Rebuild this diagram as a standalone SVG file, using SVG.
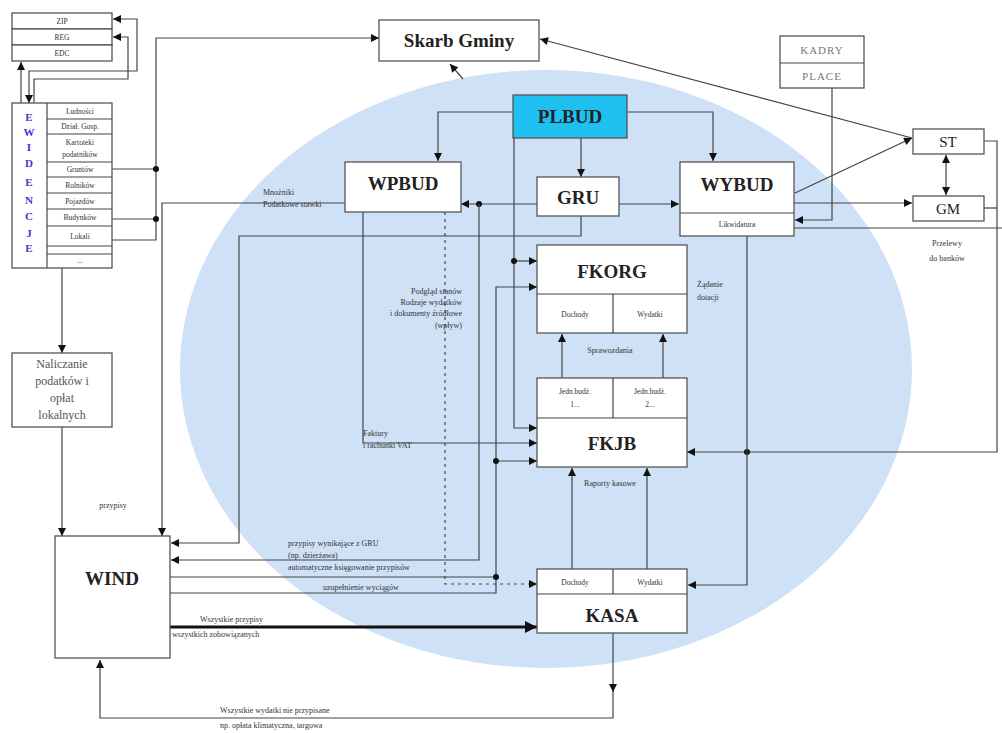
<svg xmlns="http://www.w3.org/2000/svg" width="1002" height="733" viewBox="0 0 1002 733">
<style>
.bx{fill:#fff;stroke:#555;stroke-width:1.3}
.ln{fill:none;stroke:#444;stroke-width:1.2}
.big{font-family:"Liberation Serif",serif;font-weight:bold;font-size:19px;fill:#222;text-anchor:middle}
.mid{font-family:"Liberation Serif",serif;font-size:15px;fill:#222;text-anchor:middle}
.sm{font-family:"Liberation Serif",serif;font-size:7.5px;fill:#333;text-anchor:middle}
.lb{font-family:"Liberation Serif",serif;font-size:8px;fill:#333}
.nl{font-family:"Liberation Serif",serif;font-size:12px;fill:#555;text-anchor:middle}
.ew{font-family:"Liberation Serif",serif;font-weight:bold;font-size:11px;fill:#3a3ad0;text-anchor:middle}
.kd{font-family:"Liberation Serif",serif;font-size:11px;fill:#777;text-anchor:middle;letter-spacing:1px}
.dot{fill:#111}
</style>
<defs>
<marker id="a" viewBox="0 0 10 10" refX="10" refY="5" markerWidth="9" markerHeight="8" markerUnits="userSpaceOnUse" orient="auto-start-reverse"><path d="M0,0 L10,5 L0,10 z" fill="#111"/></marker>
<marker id="ab" viewBox="0 0 10 10" refX="10" refY="5" markerWidth="14" markerHeight="12" markerUnits="userSpaceOnUse" orient="auto"><path d="M0,0 L10,5 L0,10 z" fill="#111"/></marker>
</defs>
<rect width="1002" height="733" fill="#fff"/>
<ellipse cx="546" cy="369" rx="366" ry="299" fill="#cfe1f6"/>

<g id="connectors">
<path class="ln" d="M21,103 V62" marker-end="url(#a)"/>
<path class="ln" d="M29,103 V71 H137 V19 H113" marker-start="url(#a)" marker-end="url(#a)"/>
<path class="ln" d="M34,103 V79 H128 V37 H113" marker-end="url(#a)"/>
<path class="ln" d="M62,268 V353" marker-end="url(#a)"/>
<path class="ln" d="M62,427 V536" marker-end="url(#a)"/>
<path class="ln" d="M112,240 H156 V38 H379" marker-end="url(#a)"/>
<path class="ln" d="M112,169 H156 M112,219 H156"/>
<circle class="dot" cx="156" cy="169" r="3"/>
<circle class="dot" cx="156" cy="219" r="3"/>
<path class="ln" d="M345,203 H162 V536" marker-end="url(#a)"/>
<path class="ln" d="M463,79 L450,64" marker-end="url(#a)"/>
<path class="ln" d="M513,112 H438 V161" marker-end="url(#a)"/>
<path class="ln" d="M627,112 H713 V161" marker-end="url(#a)"/>
<path class="ln" d="M581,138 V177" marker-end="url(#a)"/>
<path class="ln" d="M514,138 V428 H537" marker-end="url(#a)"/>
<path class="ln" d="M514,261 H537" marker-end="url(#a)"/>
<circle class="dot" cx="514" cy="261" r="3"/>
<path class="ln" d="M537,204 H461" marker-end="url(#a)"/>
<circle class="dot" cx="479" cy="204" r="3"/>
<path class="ln" d="M479,204 V560 H171" marker-end="url(#a)"/>
<path class="ln" d="M619,204 H679" marker-end="url(#a)"/>
<path class="ln" d="M581,216 V236 H239 V543 H171" marker-end="url(#a)"/>
<path class="ln" d="M445,212 V584 H537" stroke-dasharray="3,4" marker-end="url(#a)"/>
<path class="ln" d="M363,212 V443 H537" marker-end="url(#a)"/>
<path class="ln" d="M170,577 H496"/>
<path class="ln" d="M170,593 H496 V287 H537" marker-end="url(#a)"/>
<path class="ln" d="M496,461 H537" marker-end="url(#a)"/>
<circle class="dot" cx="496" cy="577" r="3"/>
<circle class="dot" cx="496" cy="461" r="3"/>
<path class="ln" d="M562,378 V334" marker-end="url(#a)"/>
<path class="ln" d="M663,378 V334" marker-end="url(#a)"/>
<path class="ln" d="M572,569 V468" marker-end="url(#a)"/>
<path class="ln" d="M647,569 V468" marker-end="url(#a)"/>
<path d="M170,627 H537" fill="none" stroke="#111" stroke-width="3" marker-end="url(#ab)"/>
<path class="ln" d="M613,633 V692" marker-end="url(#a)"/>
<path class="ln" d="M613,690 V718 H100 V660" marker-end="url(#a)"/>
<path class="ln" d="M912,138 L540,39" marker-end="url(#a)"/>
<path class="ln" d="M795,193 L912,138" marker-end="url(#a)"/>
<path class="ln" d="M794,203 H912" marker-end="url(#a)"/>
<path class="ln" d="M946,155 V195" marker-start="url(#a)" marker-end="url(#a)"/>
<path class="ln" d="M832,88 V220 H795" marker-end="url(#a)"/>
<path class="ln" d="M984,141 H997 V452 H687" marker-end="url(#a)"/>
<path class="ln" d="M984,208 H997"/>
<circle class="dot" cx="747" cy="452" r="3"/>
<path class="ln" d="M747,236 V585 H688" marker-end="url(#a)"/>
<path class="ln" d="M794,228 H1002"/>
</g>

<g id="labels">
<text class="lb" x="263" y="195">Mnożniki</text>
<text class="lb" x="263" y="207">Podatkowe stawki</text>
<text class="lb" x="462" y="294" text-anchor="end">Podgląd stanów</text>
<text class="lb" x="462" y="305" text-anchor="end">Rodzaje wydatków</text>
<text class="lb" x="462" y="316" text-anchor="end">i dokumenty źródłowe</text>
<text class="lb" x="462" y="328" text-anchor="end">(wpływ)</text>
<text class="lb" x="363" y="436">Faktury</text>
<text class="lb" x="363" y="448">i rachunki VAT</text>
<text class="lb" x="610" y="353" text-anchor="middle">Sprawozdania</text>
<text class="lb" x="610" y="486" text-anchor="middle">Raporty kasowe</text>
<text class="lb" x="697" y="287">Żądanie</text>
<text class="lb" x="697" y="300">dotacji</text>
<text class="lb" x="947" y="246" text-anchor="middle">Przelewy</text>
<text class="lb" x="947" y="261" text-anchor="middle">do banków</text>
<text class="lb" x="113" y="508" text-anchor="middle">przypisy</text>
<text class="lb" x="288" y="546">przypisy wynikające z GRU</text>
<text class="lb" x="288" y="558">(np. dzierżawa)</text>
<text class="lb" x="288" y="570">automatyczne księgowanie przypisów</text>
<text class="lb" x="323" y="590">uzupełnienie wyciągów</text>
<text class="lb" x="200" y="622" font-size="9">Wszystkie przypisy</text>
<text class="lb" x="172" y="637" font-size="9">wszystkich zobowiązanych</text>
<text class="lb" x="220" y="713">Wszystkie wydatki nie przypisane</text>
<text class="lb" x="220" y="728">np. opłata klimatyczna, targowa</text>
</g>

<g id="zip">
<rect class="bx" x="12" y="13" width="100" height="16"/>
<text class="sm" x="62" y="24">ZIP</text>
</g>
<g id="reg">
<rect class="bx" x="12" y="29" width="100" height="16"/>
<text class="sm" x="62" y="40">REG</text>
</g>
<g id="edc">
<rect class="bx" x="12" y="45" width="100" height="16"/>
<text class="sm" x="62" y="56">EDC</text>
</g>

<g id="ewidencje">
<rect class="bx" x="12" y="103" width="100" height="165"/>
<line class="ln" x1="47" y1="103" x2="47" y2="268"/>
<path class="ln" d="M47,119 H112 M47,134 H112 M47,162 H112 M47,177 H112 M47,193 H112 M47,209 H112 M47,226 H112 M47,246 H112 M47,254 H112"/>
<text class="ew" x="29" y="121">E</text>
<text class="ew" x="29" y="136">W</text>
<text class="ew" x="29" y="151">I</text>
<text class="ew" x="29" y="167">D</text>
<text class="ew" x="29" y="186">E</text>
<text class="ew" x="29" y="204">N</text>
<text class="ew" x="29" y="220">C</text>
<text class="ew" x="29" y="237">J</text>
<text class="ew" x="29" y="252">E</text>
<text class="sm" x="80" y="114">Ludności</text>
<text class="sm" x="80" y="129">Dział. Gosp.</text>
<text class="sm" x="80" y="145">Kartoteki</text>
<text class="sm" x="80" y="157">podatników</text>
<text class="sm" x="80" y="172">Gruntów</text>
<text class="sm" x="80" y="188">Rolników</text>
<text class="sm" x="80" y="204">Pojazdów</text>
<text class="sm" x="80" y="220">Budynków</text>
<text class="sm" x="80" y="239">Lokali</text>
<text class="sm" x="80" y="263" fill="#bbb">...</text>
</g>

<g id="naliczanie">
<rect class="bx" x="12" y="353" width="100" height="74"/>
<text class="nl" x="62" y="368">Naliczanie</text>
<text class="nl" x="62" y="385">podatków i</text>
<text class="nl" x="62" y="402">opłat</text>
<text class="nl" x="62" y="419">lokalnych</text>
</g>

<g id="wind">
<rect class="bx" x="55" y="536" width="115" height="122"/>
<text class="big" x="112" y="585">WIND</text>
</g>

<g id="skarb">
<rect class="bx" x="379" y="20" width="160" height="41"/>
<text class="big" x="459" y="47" font-size="18">Skarb Gminy</text>
</g>

<g id="plbud">
<rect x="513" y="95" width="114" height="43" fill="#1ec0ef" stroke="#555" stroke-width="1.3"/>
<text class="big" x="570" y="123" fill="#1a2a48">PLBUD</text>
</g>

<g id="wpbud">
<rect class="bx" x="345" y="162" width="116" height="50"/>
<text class="big" x="403" y="190">WPBUD</text>
</g>

<g id="gru">
<rect class="bx" x="537" y="177" width="82" height="39"/>
<text class="big" x="578" y="204">GRU</text>
</g>

<g id="wybud">
<rect class="bx" x="680" y="162" width="114" height="74"/>
<line class="ln" x1="680" y1="213" x2="794" y2="213"/>
<text class="big" x="737" y="191">WYBUD</text>
<text class="sm" x="737" y="227" font-size="7">Likwidatura</text>
</g>

<g id="kadry">
<rect class="bx" x="780" y="36" width="84" height="52"/>
<line class="ln" x1="780" y1="63" x2="864" y2="63"/>
<text class="kd" x="822" y="54">KADRY</text>
<text class="kd" x="822" y="80">PLACE</text>
</g>

<g id="st">
<rect class="bx" x="913" y="129" width="71" height="25"/>
<text class="mid" x="948" y="147">ST</text>
</g>

<g id="gm">
<rect class="bx" x="913" y="196" width="71" height="25"/>
<text class="mid" x="948" y="214">GM</text>
</g>

<g id="fkorg">
<rect class="bx" x="537" y="245" width="150" height="88"/>
<line class="ln" x1="537" y1="294" x2="687" y2="294"/>
<line class="ln" x1="613" y1="294" x2="613" y2="333"/>
<text class="big" x="612" y="278">FKORG</text>
<text class="sm" x="575" y="317">Dochody</text>
<text class="sm" x="650" y="317">Wydatki</text>
</g>

<g id="fkjb">
<rect class="bx" x="537" y="378" width="150" height="89"/>
<line class="ln" x1="537" y1="418" x2="687" y2="418"/>
<line class="ln" x1="613" y1="378" x2="613" y2="418"/>
<text class="sm" x="575" y="394">Jedn.budż.</text>
<text class="sm" x="575" y="407">1...</text>
<text class="sm" x="650" y="394">Jedn.budż.</text>
<text class="sm" x="650" y="407">2...</text>
<text class="big" x="612" y="450">FKJB</text>
</g>

<g id="kasa">
<rect class="bx" x="537" y="569" width="150" height="64"/>
<line class="ln" x1="537" y1="594" x2="687" y2="594"/>
<line class="ln" x1="613" y1="569" x2="613" y2="594"/>
<text class="sm" x="575" y="585">Dochody</text>
<text class="sm" x="650" y="585">Wydatki</text>
<text class="big" x="612" y="622">KASA</text>
</g>
</svg>
